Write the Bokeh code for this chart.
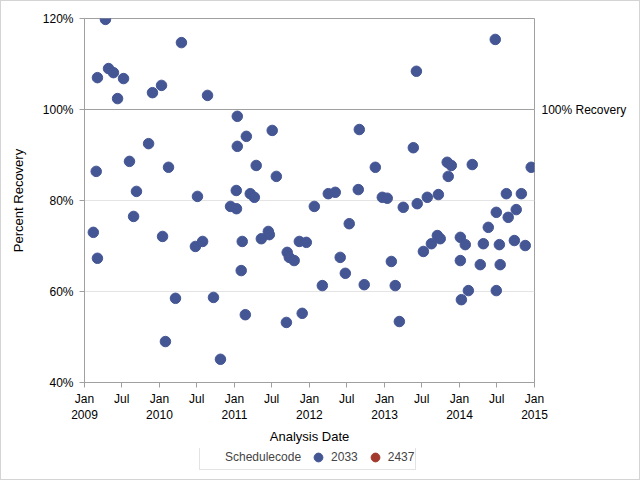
import pandas as pd
from bokeh.plotting import figure
from bokeh.layouts import column
from bokeh.models import (ColumnDataSource, FixedTicker, PrintfTickFormatter, Span,
                          Legend, LegendItem, Range1d, LinearAxis)
from bokeh.embed import file_html
from bokeh.resources import INLINE

# ---- data ----
dates_2033 = [
    "2009-02-13", "2009-02-27", "2009-03-05", "2009-03-05", "2009-04-13", "2009-04-28",
    "2009-05-22", "2009-06-11", "2009-07-10", "2009-08-08", "2009-08-28", "2009-09-11",
    "2009-11-09", "2009-11-28", "2010-01-11", "2010-01-16", "2010-01-30", "2010-02-14",
    "2010-03-20", "2010-04-18", "2010-06-25", "2010-07-05", "2010-07-30", "2010-08-23",
    "2010-09-21", "2010-10-25", "2010-12-13", "2011-01-11", "2011-01-10", "2011-01-15",
    "2011-01-15", "2011-02-08", "2011-02-03", "2011-02-23", "2011-02-28", "2011-03-19",
    "2011-04-08", "2011-04-17", "2011-05-12", "2011-06-15", "2011-06-20", "2011-07-04",
    "2011-07-24", "2011-09-11", "2011-09-15", "2011-09-25", "2011-10-19", "2011-11-13",
    "2011-11-27", "2011-12-17", "2012-01-25", "2012-03-04", "2012-04-02", "2012-05-06",
    "2012-05-30", "2012-06-24", "2012-07-13", "2012-08-26", "2012-08-31", "2012-09-24",
    "2012-11-17", "2012-12-21", "2013-01-14", "2013-02-03", "2013-02-22", "2013-03-14",
    "2013-04-02", "2013-05-21", "2013-06-05", "2013-06-09", "2013-07-09", "2013-07-28",
    "2013-08-17", "2013-09-15", "2013-09-29", "2013-09-20", "2013-11-02", "2013-11-22",
    "2013-11-07", "2014-01-05", "2014-01-05", "2014-01-10", "2014-01-29", "2014-02-13",
    "2014-03-04", "2014-04-12", "2014-04-27", "2014-05-21", "2014-06-24", "2014-06-29",
    "2014-06-29", "2014-07-14", "2014-07-18", "2014-08-17", "2014-08-26", "2014-09-25",
    "2014-10-04", "2014-10-29", "2014-11-17", "2014-12-16",
]
recovery_2033 = [
    73.0, 86.4, 67.3, 107.0, 119.8, 109.0,
    108.1, 102.4, 106.8, 88.6, 76.5, 82.0,
    92.5, 103.7, 105.3, 72.1, 49.0, 87.3,
    58.5, 114.7, 69.9, 80.9, 71.0, 103.1,
    58.7, 45.1, 78.7, 78.2, 82.2, 98.5,
    91.9, 71.0, 64.6, 54.9, 94.1, 81.5,
    80.7, 87.7, 71.6, 73.2, 72.5, 95.4,
    85.3, 53.2, 68.6, 67.5, 66.8, 71.0,
    55.2, 70.8, 78.7, 61.3, 81.5, 81.8,
    67.5, 64.0, 74.9, 82.4, 95.6, 61.5,
    87.3, 80.7, 80.5, 66.6, 61.3, 53.4,
    78.5, 91.6, 108.4, 79.3, 68.8, 80.7,
    70.5, 72.3, 71.6, 81.3, 88.4, 87.7,
    85.3, 71.9, 66.8, 58.2, 70.3, 60.2,
    87.9, 65.9, 70.5, 74.1, 115.4, 77.4,
    60.2, 70.3, 65.9, 81.5, 76.3, 71.2,
    78.0, 81.5, 70.1, 87.3,
]
# schedule code 2437 has no plotted points (only appears in the legend)
dates_2437 = []
recovery_2437 = []

series_names = ["2033", "2437"]
series_colors = ["#445694", "#A23A2E"]
legend_title = "Schedulecode"

x_tick_dates = ["2009-01-01", "2009-07-01", "2010-01-01", "2010-07-01", "2011-01-01",
                "2011-07-01", "2012-01-01", "2012-07-01", "2013-01-01", "2013-07-01",
                "2014-01-01", "2014-07-01", "2015-01-01"]
x_tick_labels = ["Jan\n2009", "Jul", "Jan\n2010", "Jul", "Jan\n2011", "Jul", "Jan\n2012",
                 "Jul", "Jan\n2013", "Jul", "Jan\n2014", "Jul", "Jan\n2015"]
y_ticks = [40, 60, 80, 100, 120]
ref_value = 100
ref_label = "100% Recovery"
x_title = "Analysis Date"
y_title = "Percent Recovery"

FONT = "Liberation Sans"
NAN = float("nan")
EDGE = "#d4d4d4"


def to_ms(ds):
    return [int(pd.Timestamp(d).value // 10**6) for d in ds]


def series_source(ds, vals):
    xs = to_ms(ds)
    ys = list(vals)
    if not xs:  # keep one missing row so the legend still draws the marker
        xs, ys = [NAN], [NAN]
    return ColumnDataSource(data=dict(x=xs, y=ys))


tick_ms = to_ms(x_tick_dates)

p = figure(width=640, height=448, output_backend="svg", toolbar_location=None,
           x_axis_type="datetime",
           x_range=Range1d(tick_ms[0], tick_ms[-1]),
           y_range=Range1d(y_ticks[0], y_ticks[-1]),
           min_border_left=84, min_border_right=106, min_border_top=18, min_border_bottom=66,
           styles={"background-color": "white",
                   "box-shadow": f"inset 1px 1px 0 {EDGE}, inset -1px 0 0 {EDGE}"})
p.border_fill_alpha = 0

p.outline_line_color = "#a0a0a0"
p.outline_line_width = 1

p.xgrid.grid_line_color = None
p.ygrid.grid_line_color = "#e4e4e4"
p.ygrid.ticker = FixedTicker(ticks=y_ticks)

# reference-line label as a right axis with a single tick
raxis = LinearAxis(ticker=FixedTicker(ticks=[ref_value]),
                   major_label_overrides={ref_value: ref_label})
p.add_layout(raxis, "right")

for ax in (p.xaxis[0], p.yaxis[0], raxis):
    ax.axis_line_color = "#a0a0a0"
    ax.major_tick_line_color = "#a0a0a0"
    ax.major_tick_out = 5
    ax.major_tick_in = 0
    ax.minor_tick_line_color = None
    ax.major_label_text_font = FONT
    ax.major_label_text_font_size = "12px"
    ax.major_label_text_color = "#000000"
    ax.axis_label_text_font = FONT
    ax.axis_label_text_font_size = "13px"
    ax.axis_label_text_font_style = "normal"
    ax.axis_label_text_color = "#000000"

raxis.axis_line_color = None
raxis.major_tick_line_color = None
raxis.major_tick_out = 0
raxis.major_label_standoff = 7

p.xaxis[0].ticker = FixedTicker(ticks=tick_ms)
p.xaxis[0].major_label_overrides = {t: lab for t, lab in zip(tick_ms, x_tick_labels)}
p.xaxis[0].major_label_standoff = 4
p.xaxis[0].axis_label = x_title
p.xaxis[0].axis_label_standoff = 4

p.yaxis[0].ticker = FixedTicker(ticks=y_ticks)
p.yaxis[0].formatter = PrintfTickFormatter(format="%d%%")
p.yaxis[0].major_label_standoff = 6
p.yaxis[0].axis_label = y_title
p.yaxis[0].axis_label_standoff = 14

p.add_layout(Span(location=ref_value, dimension="width", line_color="#a0a0a0", line_width=1))

sources = [series_source(dates_2033, recovery_2033), series_source(dates_2437, recovery_2437)]
for src, col in zip(sources, series_colors):
    p.scatter(x="x", y="y", source=src, size=10.5, fill_color=col, line_color=col)

# ---- legend strip below the chart ----
lf = figure(width=640, height=32, output_backend="svg", toolbar_location=None,
            x_range=Range1d(0, 1), y_range=Range1d(0, 1),
            x_axis_location=None, y_axis_location=None,
            min_border_left=0, min_border_right=0, min_border_top=0, min_border_bottom=0,
            styles={"background-color": "white",
                    "box-shadow": f"inset 1px -1px 0 {EDGE}, inset -1px 0 0 {EDGE}"})
lf.outline_line_color = None
lf.border_fill_alpha = 0
lf.background_fill_alpha = 0
lf.xgrid.grid_line_color = None
lf.ygrid.grid_line_color = None

title_r = lf.scatter(x=[], y=[], size=0, fill_alpha=0, line_alpha=0)
leg_rs = [lf.scatter(x="y", y="y", source=src, size=10.5, fill_color=col, line_color=col)
          for src, col in zip(sources, series_colors)]

items = [LegendItem(label=legend_title, renderers=[title_r])]
items += [LegendItem(label=n, renderers=[r]) for n, r in zip(series_names, leg_rs)]
legend = Legend(items=items, orientation="horizontal", location=(115, 10),
                border_line_color="#c8c8c8", padding=1, margin=0, spacing=6,
                label_standoff=2, glyph_width=22, glyph_height=22, label_height=12,
                label_text_font=FONT, label_text_font_size="12px",
                background_fill_color="white")
lf.add_layout(legend, "center")

layout = column(p, lf, spacing=0)
open("out.html", "w").write(file_html(layout, INLINE))
